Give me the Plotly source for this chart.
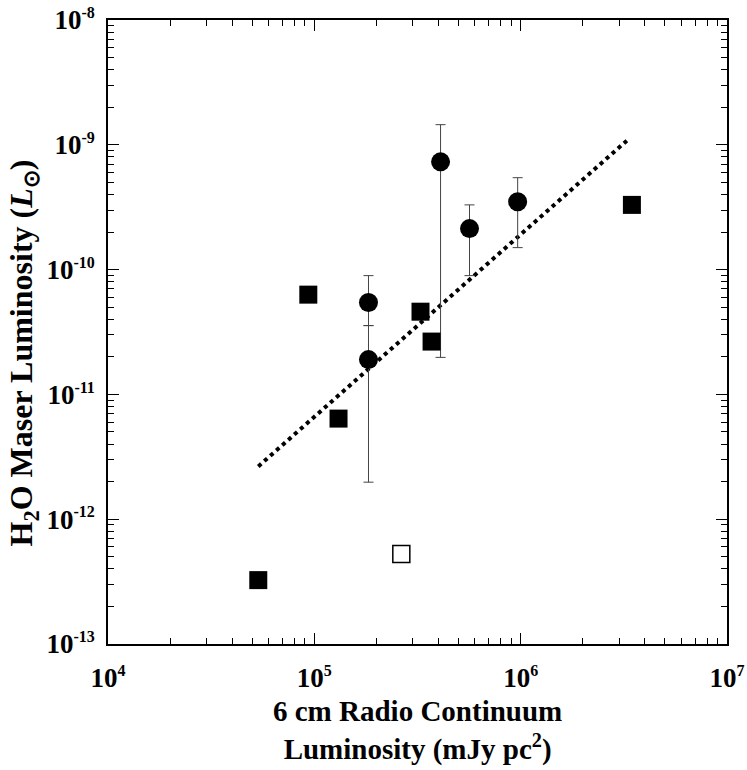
import plotly.graph_objects as go

# Filled squares
sq_x = [5.35e4, 9.35e4, 1.31e5, 3.27e5, 3.70e5, 3.46e6]
sq_y = [3.25e-13, 6.3e-11, 6.4e-12, 4.6e-11, 2.65e-11, 3.3e-10]
# Open square
osq_x = [2.64e5]
osq_y = [5.25e-13]
# Circles with asymmetric error bars
c_x = [1.83e5, 1.83e5, 4.09e5, 5.65e5, 9.67e5]
c_y = [5.45e-11, 1.9e-11, 7.3e-10, 2.13e-10, 3.5e-10]
c_hi = [8.95e-11, 3.56e-11, 1.45e-9, 3.3e-10, 5.45e-10]
c_lo = [3.56e-11, 1.98e-12, 1.98e-11, 8.95e-11, 1.5e-10]
# Fit line end points
fit_x = [5.35e4, 3.27e6]
fit_y = [2.65e-12, 1.08e-9]

x_ticks = [1e4, 1e5, 1e6, 1e7]
x_exps = ["4", "5", "6", "7"]
y_ticks = [1e-13, 1e-12, 1e-11, 1e-10, 1e-9, 1e-8]
y_exps = ["-13", "-12", "-11", "-10", "-9", "-8"]
x_title = "6 cm Radio Continuum<br>Luminosity (mJy pc<sup>2</sup>)"
y_title = "H<sub>2</sub>O Maser Luminosity (<i>L</i><sub>⊙</sub>)"

x_minor = [m * 10 ** e for e in range(4, 7) for m in range(2, 10)]
y_minor = [m * 10.0 ** e for e in range(-13, -8) for m in range(2, 10)]


def pow_label(e):
    return "<b>10<sup><span style='font-size:16px'>%s</span></sup></b>" % e


fig = go.Figure()
fig.add_trace(go.Scatter(x=fit_x, y=fit_y, mode="lines",
                         line=dict(color="black", width=4, dash="dot"),
                         showlegend=False))
fig.add_trace(go.Scatter(
    x=c_x, y=c_y, mode="markers",
    marker=dict(symbol="circle", size=19, color="black"),
    error_y=dict(type="data", symmetric=False,
                 array=[h - v for h, v in zip(c_hi, c_y)],
                 arrayminus=[v - l for l, v in zip(c_lo, c_y)],
                 color="#444", thickness=1, width=5),
    showlegend=False))
fig.add_trace(go.Scatter(x=sq_x, y=sq_y, mode="markers",
                         marker=dict(symbol="square", size=18, color="black"),
                         showlegend=False))
fig.add_trace(go.Scatter(x=osq_x, y=osq_y, mode="markers",
                         marker=dict(symbol="square", size=17, color="white",
                                     line=dict(color="black", width=1.5)),
                         showlegend=False))

font = dict(family="Liberation Serif", size=27, color="black")
axis_common = dict(type="log", showgrid=False, zeroline=False, automargin=False,
                   showline=True, linecolor="black", linewidth=1.5,
                   mirror="ticks", ticks="inside", ticklen=11, tickwidth=1.2,
                   tickcolor="black", tickfont=font, tickmode="array",
                   ticklabeloverflow="allow")

fig.update_xaxes(**axis_common, range=[4, 7], tickvals=x_ticks,
                 ticktext=[pow_label(e) for e in x_exps],
                 ticklabelstandoff=9,
                 minor=dict(tickmode="array", tickvals=x_minor, ticks="inside",
                            ticklen=6, tickcolor="black", tickwidth=1, showgrid=False))
fig.update_yaxes(**axis_common, range=[-13, -8], tickvals=y_ticks,
                 ticktext=[pow_label(e) for e in y_exps],
                 ticklabelstandoff=6,
                 minor=dict(tickmode="array", tickvals=y_minor, ticks="inside",
                            ticklen=6, tickcolor="black", tickwidth=1, showgrid=False))

fig.add_annotation(text="<b>%s</b>" % x_title, xref="paper", yref="paper",
                   x=0.5, y=-0.138, xanchor="center", yanchor="middle",
                   showarrow=False,
                   font=dict(family="Liberation Serif", size=29, color="black"))
fig.add_annotation(text="<b>%s</b>" % y_title, xref="paper", yref="paper",
                   x=-0.137, y=0.466, xanchor="center", yanchor="middle",
                   textangle=-90, showarrow=False,
                   font=dict(family="Liberation Serif", size=32, color="black"))

fig.update_layout(width=747, height=770,
                  margin=dict(l=108, r=20, t=20, b=126),
                  plot_bgcolor="white", paper_bgcolor="white")

fig.write_html("out.html", config={"displayModeBar": False},
               post_script="document.body.style.margin='0px';")
